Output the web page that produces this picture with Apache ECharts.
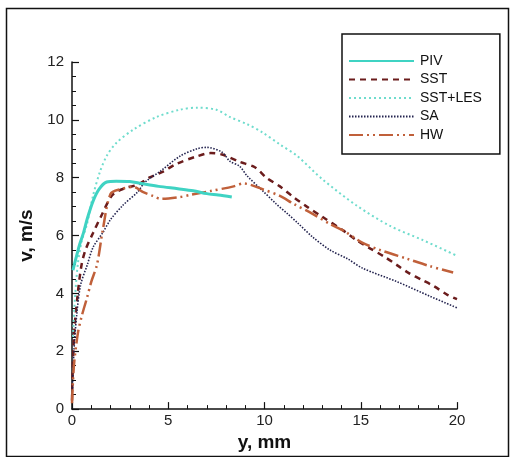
<!DOCTYPE html>
<html>
<head>
<meta charset="utf-8">
<script src="https://cdn.jsdelivr.net/npm/echarts@6/dist/echarts.min.js"></script>
<style>
html,body{margin:0;padding:0;background:#fff;}
#chart{width:513px;height:457px;}
</style>
</head>
<body>
<div id="chart"></div>
<script>
// ---- data ----
var seriesNames = ["PIV", "SST", "SST+LES", "SA", "HW"];

var pivX = [0.05,0.2,0.4,0.6,0.8,1.1,1.4,1.8,2.3,3.0,3.6,4.5,5.5,6.3,7.0,7.6,8.3];
var pivV = [4.8,5.2,5.7,6.1,6.6,7.2,7.6,7.85,7.88,7.87,7.8,7.7,7.62,7.55,7.45,7.4,7.33];

var sstX = [0,0.1,0.3,0.5,0.7,1.1,1.5,2.1,2.8,3.4,4.0,4.7,5.4,6.5,7.2,7.8,8.7,9.5,10.1,10.8,11.5,12.2,13,14.1,14.8,15.5,16.2,16.9,17.5,18.2,18.8,19.5,20];
var sstV = [0.3,2.5,4.0,5.0,5.5,6.1,6.65,7.4,7.65,7.75,8.0,8.2,8.47,8.74,8.85,8.8,8.55,8.36,8.0,7.7,7.33,7.0,6.65,6.17,5.83,5.55,5.28,4.97,4.7,4.46,4.25,3.95,3.8];

var lesX = [0.05,0.15,0.3,0.5,0.78,1.1,1.45,1.8,2.3,3.2,4.4,5.6,6.5,7.5,8.2,9.1,9.9,10.8,11.7,13,14.8,16.5,18.2,20];
var lesV = [2.5,3.8,5.0,5.8,6.4,7.4,8.2,8.75,9.2,9.67,10.1,10.35,10.42,10.35,10.1,9.85,9.56,9.15,8.75,7.95,7.03,6.34,5.85,5.3];

var saX = [0,0.1,0.25,0.45,0.8,1.1,1.6,2.0,2.65,3.4,3.8,4.6,5.6,6.5,7.0,7.8,8.2,8.7,9.1,9.9,10.6,11.2,11.7,12.5,13.4,14.3,15.1,16.9,18.6,20];
var saV = [0.3,2.0,3.3,4.3,5.0,5.6,6.1,6.55,7.05,7.5,7.85,8.23,8.74,9.0,9.05,8.88,8.57,8.4,8.06,7.55,7.1,6.75,6.45,5.95,5.5,5.2,4.87,4.4,3.9,3.5];

var hwX = [0,0.1,0.3,0.5,0.78,1.0,1.3,1.6,2.0,2.5,3.2,3.7,4.2,4.6,5.6,6.1,7.2,8.4,8.9,9.9,10.8,11.5,12.5,13.4,14.1,15.1,16.0,17.4,18.6,19.8];
var hwV = [0.2,1.5,2.6,3.2,3.85,4.4,5.0,6.2,7.44,7.6,7.68,7.5,7.37,7.27,7.33,7.4,7.54,7.7,7.8,7.6,7.37,7.1,6.75,6.4,6.17,5.75,5.5,5.2,4.94,4.72];

var xTicks = [0, 5, 10, 15, 20];
var yTicks = [0, 2, 4, 6, 8, 10, 12];

function pairs(xs, ys) { return xs.map(function (x, i) { return [x, ys[i]]; }); }

var styles = {
  "PIV":     { color: "#3fd3c3", width: 3,   type: "solid" },
  "SST":     { color: "#6b1c1c", width: 2.5, type: [6, 5] },
  "SST+LES": { color: "#6fdccd", width: 2,   type: [2, 3] },
  "SA":      { color: "#23234f", width: 1.6, type: [1.5, 1.5] },
  "HW":      { color: "#c0603a", width: 2.5, type: [14, 4, 2, 4, 2, 4] }
};
var dataSets = {
  "PIV": pairs(pivX, pivV),
  "SST": pairs(sstX, sstV),
  "SST+LES": pairs(lesX, lesV),
  "SA": pairs(saX, saV),
  "HW": pairs(hwX, hwV)
};

var font = "'Liberation Sans', Arial, sans-serif";

var chart = echarts.init(document.getElementById('chart'), null, { renderer: 'canvas' });
chart.setOption({
  backgroundColor: '#ffffff',
  animation: false,
  graphic: [{
    type: 'rect', left: 4, top: 6, z: 100, silent: true,
    shape: { width: 502, height: 448 },
    style: { fill: 'none', stroke: '#111', lineWidth: 1.5 }
  }],
  grid: { left: 72, right: 56, top: 62, bottom: 45, containLabel: false },
  legend: {
    orient: 'vertical',
    left: 342, top: 34,
    padding: [20, 18, 12, 6],
    itemWidth: 65, itemHeight: 12, itemGap: 4.5,
    borderColor: '#111', borderWidth: 1.5,
    backgroundColor: '#fff',
    itemStyle: { opacity: 0 },
    textStyle: { fontFamily: font, fontSize: 14, color: '#111', padding: [0, 0, 0, 1] },
    data: seriesNames
  },
  xAxis: {
    type: 'value', min: 0, max: 20, interval: 5,
    name: 'y, mm', nameLocation: 'middle', nameGap: 22,
    nameTextStyle: { fontFamily: font, fontSize: 19, fontWeight: 'bold', color: '#111' },
    axisLine: { show: true, onZero: false, lineStyle: { color: '#111', width: 1.5 } },
    axisTick: { show: true, inside: true, length: 7, lineStyle: { color: '#111', width: 1.2 } },
    minorTick: { show: true, splitNumber: 5, length: 4, lineStyle: { color: '#111', width: 1 } },
    splitLine: { show: false },
    axisLabel: { fontFamily: font, fontSize: 15, color: '#222', margin: 4,
      formatter: function (v) { return xTicks.indexOf(v) >= 0 ? String(v) : ''; } }
  },
  yAxis: {
    type: 'value', min: 0, max: 12, interval: 2,
    name: 'v, m/s', nameLocation: 'middle', nameGap: 23,
    nameTextStyle: { fontFamily: font, fontSize: 19, fontWeight: 'bold', color: '#111' },
    axisLine: { show: true, onZero: false, lineStyle: { color: '#111', width: 1.5 } },
    axisTick: { show: true, inside: true, length: 7, lineStyle: { color: '#111', width: 1.2 } },
    minorTick: { show: true, splitNumber: 4, length: 4, lineStyle: { color: '#111', width: 1 } },
    splitLine: { show: false },
    axisLabel: { fontFamily: font, fontSize: 15, color: '#222', margin: 8,
      formatter: function (v) { return yTicks.indexOf(v) >= 0 ? String(v) : ''; } }
  },
  series: seriesNames.map(function (n) {
    var s = styles[n];
    return {
      name: n, type: 'line', data: dataSets[n],
      smooth: 0.3, showSymbol: false, symbol: 'none',
      itemStyle: { color: s.color },
      lineStyle: { color: s.color, width: s.width, type: s.type },
      z: n === 'PIV' ? 3 : 2
    };
  })
});
</script>
</body>
</html>
